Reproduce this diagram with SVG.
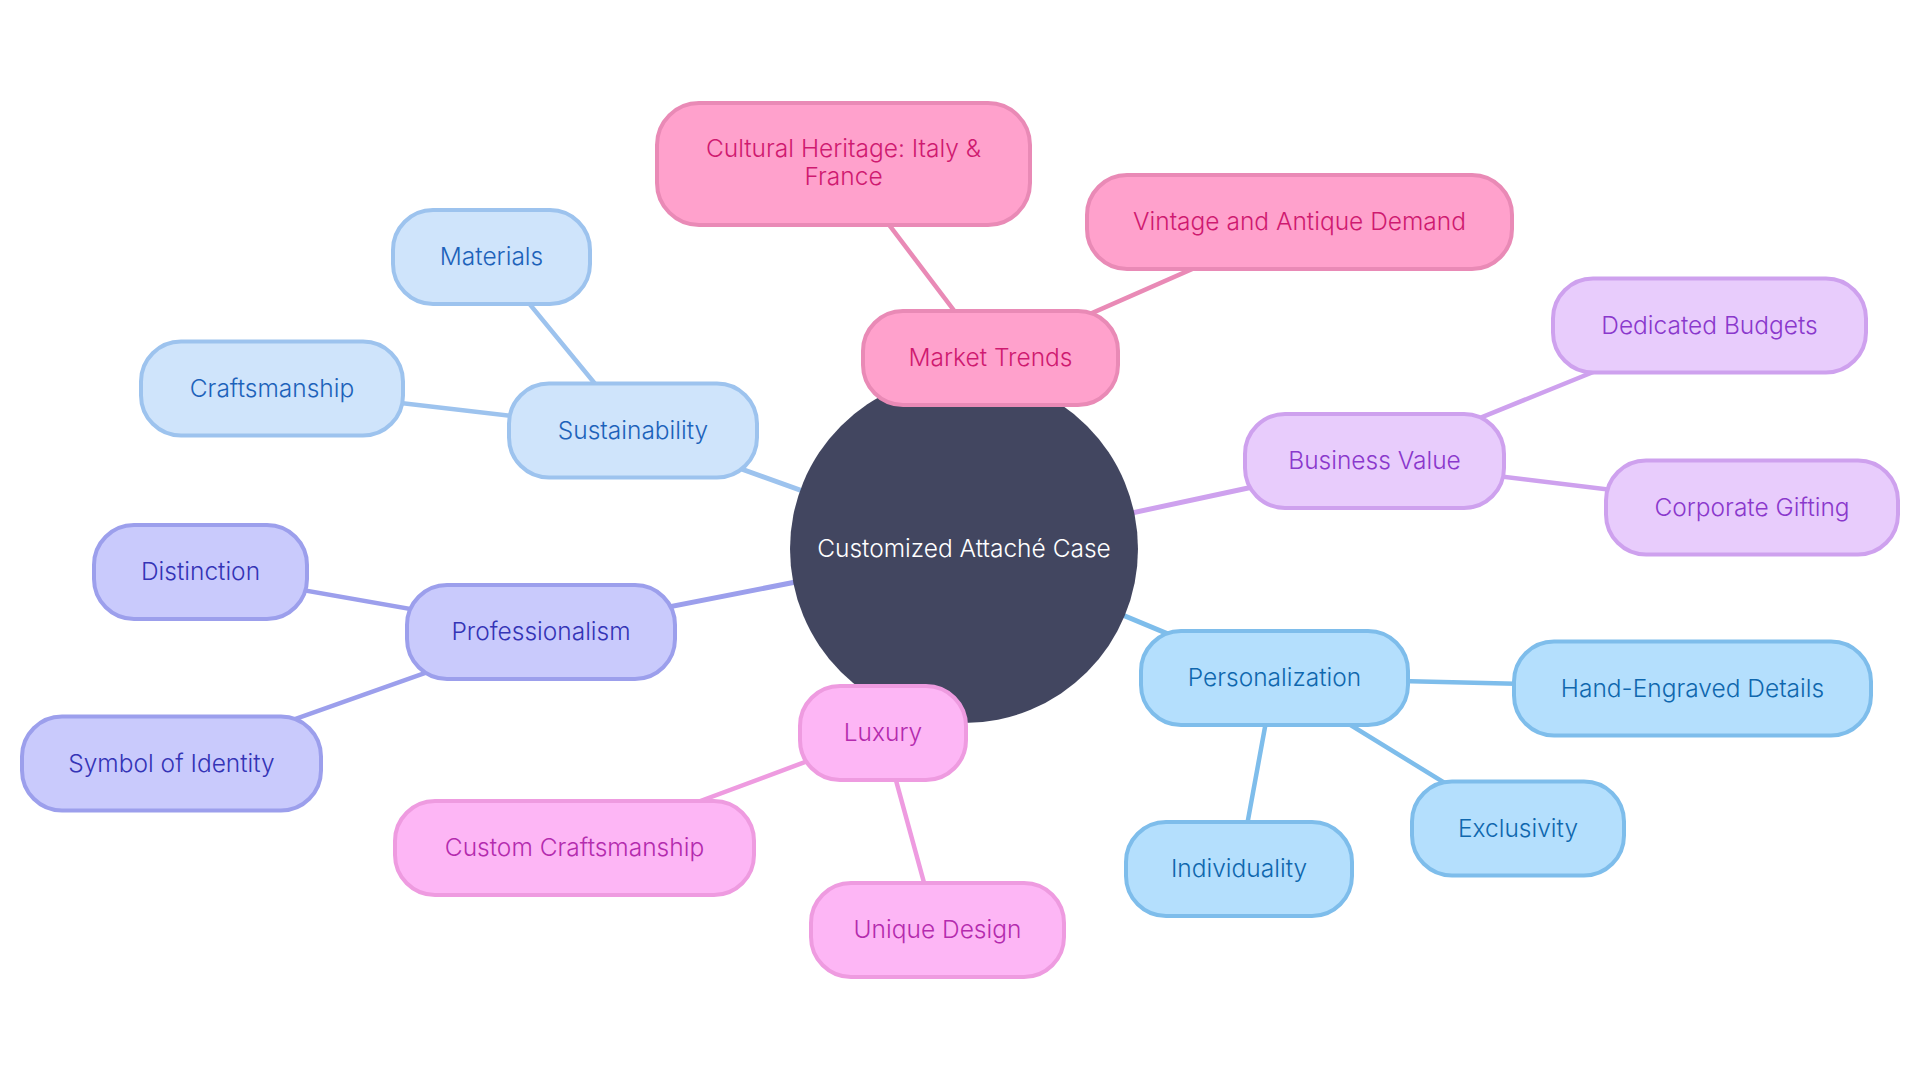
<svg xmlns="http://www.w3.org/2000/svg" width="1920" height="1080" viewBox="0 0 1920 1080">
<style>
text{font-family:Inter,"Noto Sans","DejaVu Sans",sans-serif;font-size:24.5px;font-weight:300;text-anchor:middle;dominant-baseline:central}
.n rect{stroke-width:4}
.e line{stroke-linecap:round}
.root{stroke-width:5}
.sub{stroke-width:4.5}
.pk rect{fill:#FFA1CC;stroke:#E98AB6}.pk text{fill:#CF1A70}
.lb rect{fill:#CFE4FB;stroke:#9DC3EE}.lb text{fill:#1D62BA}
.pw rect{fill:#C9CAFC;stroke:#9C9FEC}.pw text{fill:#3434B6}
.mg rect{fill:#FDB6F5;stroke:#EE9BE0}.mg text{fill:#B42BAE}
.lv rect{fill:#E8CCFC;stroke:#CEA1EE}.lv text{fill:#8A38CC}
.sb rect{fill:#B4DFFD;stroke:#7EBDEB}.sb text{fill:#0F67AE}
</style>
<rect width="1920" height="1080" fill="#FFFFFF"/>
<g id="connectors" class="e">
<line class="root" x1="964" y1="549" x2="990" y2="358" stroke="#E98AB6"/>
<line class="sub" x1="990" y1="358" x2="843" y2="164" stroke="#E98AB6"/>
<line class="sub" x1="990" y1="358" x2="1299" y2="222" stroke="#E98AB6"/>
<line class="root" x1="964" y1="549" x2="633" y2="430" stroke="#9DC3EE"/>
<line class="sub" x1="633" y1="430" x2="491" y2="257" stroke="#9DC3EE"/>
<line class="sub" x1="633" y1="430" x2="272" y2="388" stroke="#9DC3EE"/>
<line class="root" x1="964" y1="549" x2="541" y2="632" stroke="#9C9FEC"/>
<line class="sub" x1="541" y1="632" x2="200" y2="572" stroke="#9C9FEC"/>
<line class="sub" x1="541" y1="632" x2="171" y2="763" stroke="#9C9FEC"/>
<line class="root" x1="964" y1="549" x2="883" y2="733" stroke="#EE9BE0"/>
<line class="sub" x1="883" y1="733" x2="574" y2="848" stroke="#EE9BE0"/>
<line class="sub" x1="883" y1="733" x2="937" y2="930" stroke="#EE9BE0"/>
<line class="root" x1="964" y1="549" x2="1374" y2="461" stroke="#CEA1EE"/>
<line class="sub" x1="1374" y1="461" x2="1709" y2="325" stroke="#CEA1EE"/>
<line class="sub" x1="1374" y1="461" x2="1752" y2="507" stroke="#CEA1EE"/>
<line class="root" x1="964" y1="549" x2="1274" y2="678" stroke="#7EBDEB"/>
<line class="sub" x1="1274" y1="678" x2="1692" y2="688" stroke="#7EBDEB"/>
<line class="sub" x1="1274" y1="678" x2="1518" y2="828" stroke="#7EBDEB"/>
<line class="sub" x1="1274" y1="678" x2="1239" y2="869" stroke="#7EBDEB"/>
</g>
<g id="root-node">
<circle cx="964" cy="549" r="174" fill="#424660"/>
<text x="964" y="548" fill="#FFFFFF" font-size="26.5">Customized Attaché Case</text>
</g>
<g id="market-trends" class="n pk"><rect x="863" y="311" width="255" height="94" rx="40"/><text x="990.5" y="357">Market Trends</text></g>
<g id="cultural-heritage" class="n pk"><rect x="657" y="103" width="373" height="122" rx="42"/><text x="843.5" y="148">Cultural Heritage: Italy &amp;</text><text x="843.5" y="176">France</text></g>
<g id="vintage" class="n pk"><rect x="1087" y="175" width="425" height="94" rx="40"/><text x="1299.5" y="221">Vintage and Antique Demand</text></g>
<g id="sustainability" class="n lb"><rect x="509" y="383.5" width="248" height="94" rx="40"/><text x="633" y="429.5">Sustainability</text></g>
<g id="materials" class="n lb"><rect x="393" y="210" width="197" height="94" rx="40"/><text x="491.5" y="256">Materials</text></g>
<g id="craftsmanship" class="n lb"><rect x="141" y="341.5" width="262" height="94" rx="40"/><text x="272" y="387.5">Craftsmanship</text></g>
<g id="professionalism" class="n pw"><rect x="407" y="585" width="268" height="94" rx="40"/><text x="541" y="631">Professionalism</text></g>
<g id="distinction" class="n pw"><rect x="94" y="525" width="213" height="94" rx="40"/><text x="200.5" y="571">Distinction</text></g>
<g id="symbol-of-identity" class="n pw"><rect x="22" y="716.5" width="299" height="94" rx="40"/><text x="171.5" y="762.5">Symbol of Identity</text></g>
<g id="luxury" class="n mg"><rect x="800" y="686" width="166" height="94" rx="40"/><text x="883" y="732">Luxury</text></g>
<g id="custom-craftsmanship" class="n mg"><rect x="395" y="801" width="359" height="94" rx="40"/><text x="574.5" y="847">Custom Craftsmanship</text></g>
<g id="unique-design" class="n mg"><rect x="811" y="883" width="253" height="94" rx="40"/><text x="937.5" y="929">Unique Design</text></g>
<g id="business-value" class="n lv"><rect x="1245" y="414" width="259" height="94" rx="40"/><text x="1374.5" y="460">Business Value</text></g>
<g id="dedicated-budgets" class="n lv"><rect x="1553" y="278.5" width="313" height="94" rx="40"/><text x="1709.5" y="324.5">Dedicated Budgets</text></g>
<g id="corporate-gifting" class="n lv"><rect x="1606" y="460.5" width="292" height="94" rx="40"/><text x="1752" y="506.5">Corporate Gifting</text></g>
<g id="personalization" class="n sb"><rect x="1141" y="631" width="267" height="94" rx="40"/><text x="1274.5" y="677">Personalization</text></g>
<g id="hand-engraved" class="n sb"><rect x="1514" y="641.5" width="357" height="94" rx="40"/><text x="1692.5" y="687.5">Hand-Engraved Details</text></g>
<g id="exclusivity" class="n sb"><rect x="1412" y="781.5" width="212" height="94" rx="40"/><text x="1518" y="827.5">Exclusivity</text></g>
<g id="individuality" class="n sb"><rect x="1126" y="822" width="226" height="94" rx="40"/><text x="1239" y="868">Individuality</text></g>
</svg>
